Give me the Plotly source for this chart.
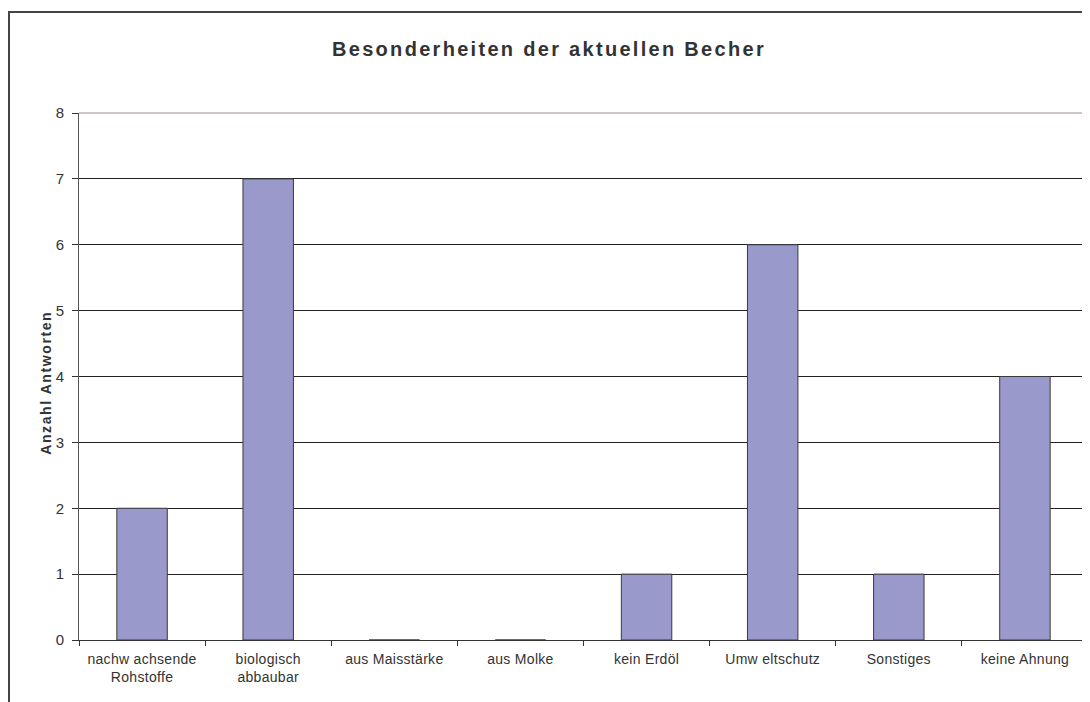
import plotly.graph_objects as go

categories = ["nachw achsende<br>Rohstoffe", "biologisch<br>abbaubar", "aus Maisstärke",
              "aus Molke", "kein Erdöl", "Umw eltschutz", "Sonstiges", "keine Ahnung"]
counts = [2, 7, 0, 0, 1, 6, 1, 4]
y_ticks = [0, 1, 2, 3, 4, 5, 6, 7, 8]

font = "Liberation Sans, Arial, sans-serif"

fig = go.Figure()
fig.add_trace(go.Bar(
    x=categories, y=counts,
    marker=dict(color="#9999cc", line=dict(color="#3a3a3a", width=1)),
    hoverinfo="x+y"
))

# page body has an 8px margin, so the figure is 8px smaller and offset
fig.update_layout(
    width=1082, height=694,
    paper_bgcolor="white", plot_bgcolor="white",
    margin=dict(l=71, r=2, t=105, b=62),
    bargap=0.6,
    showlegend=False,
    title=dict(text="<b>Besonderheiten der aktuellen Becher</b>", x=0.5, xanchor="center",
               y=1 - 41 / 694, yanchor="middle", font=dict(family=font, size=20, color="#333333")),
    font=dict(family=font, color="#333333"),
    xaxis=dict(
        type="category", tickson="boundaries", ticks="outside", ticklen=5,
        tickcolor="#333333", showgrid=False, showline=True, linecolor="#333333",
        tickfont=dict(size=14, color="#333333"), zeroline=False, ticklabelstandoff=6
    ),
    yaxis=dict(
        range=[0, 8], tickvals=y_ticks, ticks="outside", ticklen=6, tickcolor="#333333",
        showline=True, linecolor="#555555", linewidth=1,
        showgrid=True, gridcolor="#222222", gridwidth=1, zeroline=False,
        tickfont=dict(size=15, color="#333333"), ticklabelstandoff=5
    ),
    annotations=[
        # y axis title, sits a bit below the plot's middle in the original
        dict(text="<b>Anzahl Antworten</b>", textangle=-90, xref="paper", yref="paper",
             x=(38 - 71) / 1009, y=(632 - 375) / 527, xanchor="center", yanchor="middle",
             showarrow=False, font=dict(size=14, color="#333333")),
    ],
    shapes=[
        # outer chart frame
        dict(type="rect", xref="paper", yref="paper",
             x0=-70 / 1009, x1=1100 / 1009, y0=-80 / 527, y1=628 / 527,
             line=dict(color="#444444", width=2)),
        # top border of plot area
        dict(type="line", xref="paper", yref="paper", x0=0, x1=1, y0=1, y1=1,
             line=dict(color="#a08888", width=1)),
        # right border of plot area
        dict(type="line", xref="paper", yref="paper", x0=1, x1=1, y0=0, y1=1,
             line=dict(color="#999999", width=2)),
    ]
)

# the original chart uses wide letter spacing
spacing_js = """
var gd = document.getElementsByClassName('plotly-graph-div')[0];
function spread() {
  gd.querySelectorAll('.gtitle').forEach(function(t){ t.style.letterSpacing = '2.3px'; });
  gd.querySelectorAll('.xtick text').forEach(function(t){ t.style.letterSpacing = '0.3px'; });
  gd.querySelectorAll('.annotation-text').forEach(function(t){ t.style.letterSpacing = '1.6px'; });
}
spread();
gd.on('plotly_afterplot', spread);
"""

fig.write_html("out.html", post_script=spacing_js)
